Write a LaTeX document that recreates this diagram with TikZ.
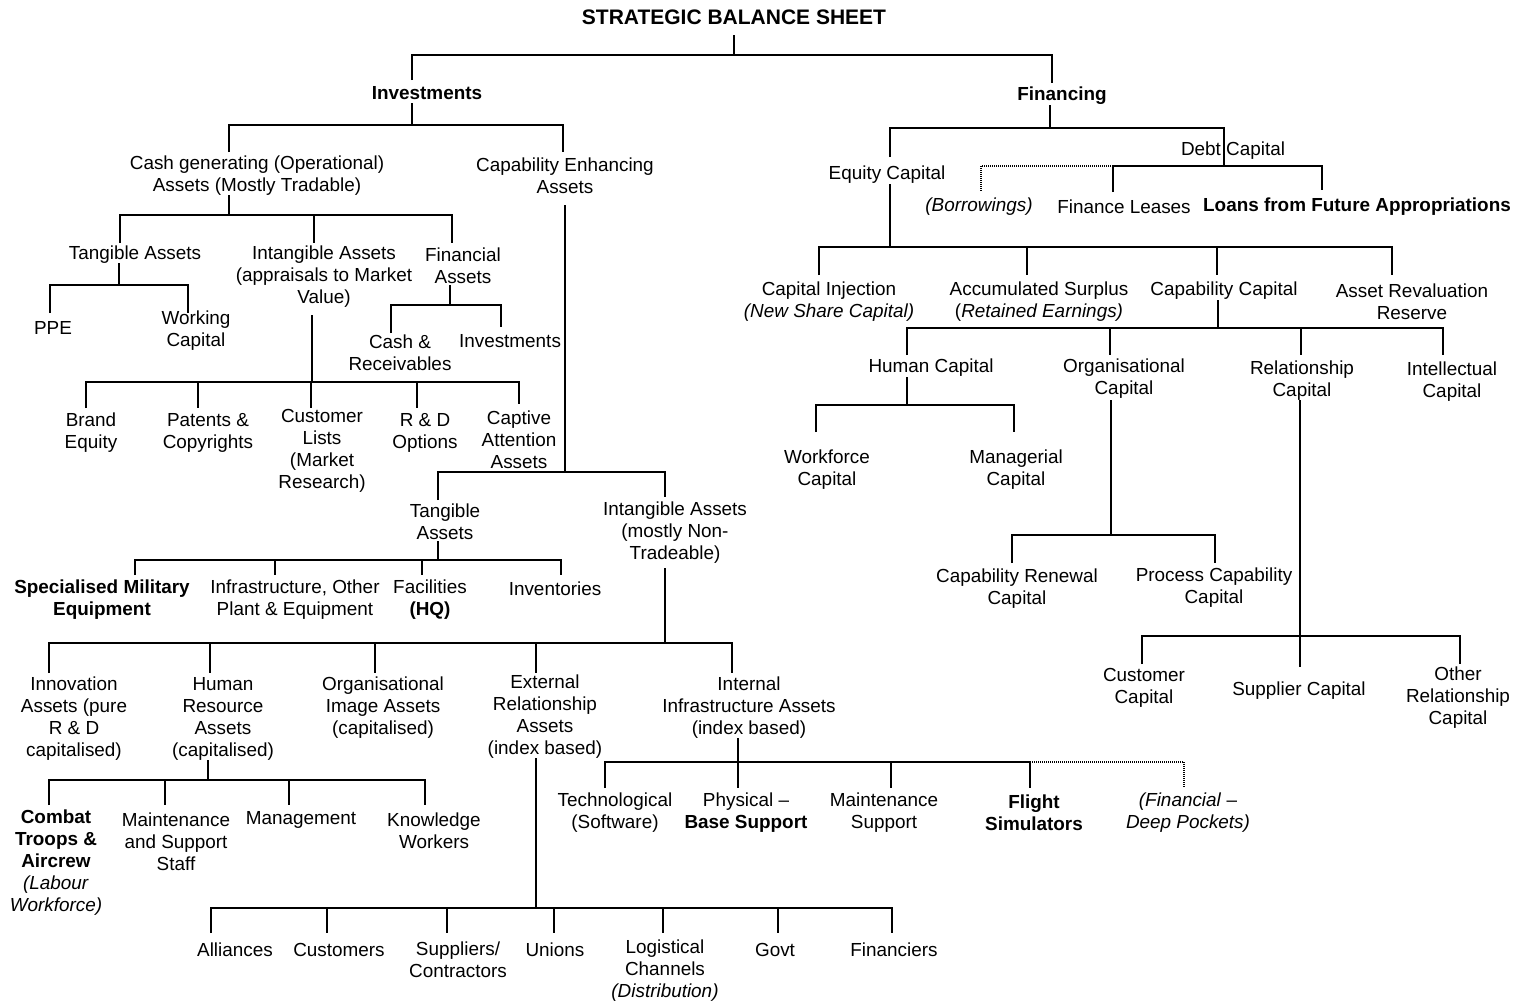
\documentclass[tikz,border=0pt]{standalone}
\usepackage{fontspec}
\setmainfont{Liberation Sans}
\begin{document}
\begin{tikzpicture}[x=1pt,y=-1pt,
  t/.style={align=center, font=\fontsize{18.9}{22}\selectfont, inner sep=0pt, yshift=-1.5pt},
  tb/.style={t, font=\fontsize{18.9}{22}\selectfont\bfseries},
  ln/.style={line width=1.6pt},
  dl/.style={line width=1.1pt, dash pattern=on 1pt off 1pt}]
\useasboundingbox (0,0) rectangle (1523,1002);
% ---------- nodes: left ----------
\node[tb, font=\fontsize{21}{24}\selectfont\bfseries] (root) at (734,16) {STRATEGIC BALANCE SHEET};
\node[tb] (inv) at (427,92) {Investments};
\node[tb] (fin) at (1062,94) {Financing};
\node[t] (cash) at (257,174) {Cash generating (Operational)\\Assets (Mostly Tradable)};
\node[t] (cap) at (565,174) {Capability Enhancing\\Assets};
\node[t] (tang) at (135,253) {Tangible Assets};
\node[t] (intg) at (324,275) {Intangible Assets\\(appraisals to Market\\Value)};
\node[t] (fina) at (463,264) {Financial\\Assets};
\node[t] (ppe) at (53,326) {PPE};
\node[t] (wc) at (196,329) {Working\\Capital};
\node[t] (cr) at (400,351) {Cash \&\\Receivables};
\node[t] (invs) at (510,340) {Investments};
\node[t] (brand) at (91,431) {Brand\\Equity};
\node[t] (pat) at (208,431) {Patents \&\\Copyrights};
\node[t] (cust) at (322,449) {Customer\\Lists\\(Market\\Research)};
\node[t] (rd) at (425,431) {R \& D\\Options};
\node[t] (capt) at (519,438) {Captive\\Attention\\Assets};
\node[t] (tang2) at (445,520) {Tangible\\Assets};
\node[t] (intg2) at (675,531) {Intangible Assets\\(mostly Non-\\Tradeable)};
\node[tb] (sme) at (102,598) {Specialised Military\\Equipment};
\node[t] (infra) at (295,598) {Infrastructure, Other\\Plant \& Equipment};
\node[t] (facil) at (430,598) {Facilities\\\textbf{(HQ)}};
\node[t] (inven) at (555,587) {Inventories};
\node[t] (innov) at (74,717) {Innovation\\Assets (pure\\R \& D\\capitalised)};
\node[t] (hra) at (223,717) {Human\\Resource\\Assets\\(capitalised)};
\node[t] (oia) at (383,706) {Organisational\\Image Assets\\(capitalised)};
\node[t] (era) at (545,715) {External\\Relationship\\Assets\\(index based)};
\node[t] (iia) at (749,706) {Internal\\Infrastructure Assets\\(index based)};
\node[t] (combat) at (56,861) {\textbf{Combat}\\\textbf{Troops \&}\\\textbf{Aircrew}\\\textit{(Labour}\\\textit{Workforce)}};
\node[t] (maint) at (176,840) {Maintenance\\and Support\\Staff};
\node[t] (mgmt) at (301,818) {Management};
\node[t] (know) at (434,829) {Knowledge\\Workers};
\node[t] (alli) at (235,948) {Alliances};
\node[t] (custs) at (339,948) {Customers};
\node[t] (supp) at (458,958) {Suppliers/\\Contractors};
\node[t] (unio) at (555,948) {Unions};
\node[t] (logi) at (665,969) {Logistical\\Channels\\\textit{(Distribution)}};
\node[t] (govt) at (775,948) {Govt};
\node[t] (finc) at (894,948) {Financiers};
\node[t] (tech) at (615,811) {Technological\\(Software)};
\node[t] (phys) at (746,811) {Physical --\\\textbf{Base Support}};
\node[t] (msup) at (884,811) {Maintenance\\Support};
\node[tb] (flight) at (1034,811) {Flight\\Simulators};
\node[t] (finan) at (1188,811) {\textit{(Financial} --\\\textit{Deep Pockets)}};
% ---------- nodes: right ----------
\node[t] (eq) at (887,173) {Equity Capital};
\node[t] (debt) at (1233,149) {Debt Capital};
\node[t] (borr) at (979,205) {\textit{(Borrowings)}};
\node[t] (fl) at (1124,205) {Finance Leases};
\node[tb] (loans) at (1357,205) {Loans from Future Appropriations};
\node[t] (ci) at (829,300) {Capital Injection\\\textit{(New Share Capital)}};
\node[t] (as) at (1039,300) {Accumulated Surplus\\(\textit{Retained Earnings)}};
\node[t] (cc) at (1224,289) {Capability Capital};
\node[t] (arr) at (1412,300) {Asset Revaluation\\Reserve};
\node[t] (hc) at (931,366) {Human Capital};
\node[t] (oc) at (1124,377) {Organisational\\Capital};
\node[t] (rc) at (1302,379) {Relationship\\Capital};
\node[t] (ic) at (1452,380) {Intellectual\\Capital};
\node[t] (wfc) at (827,468) {Workforce\\Capital};
\node[t] (mc) at (1016,468) {Managerial\\Capital};
\node[t] (crc) at (1017,587) {Capability Renewal\\Capital};
\node[t] (pcc) at (1214,586) {Process Capability\\Capital};
\node[t] (cuc) at (1144,686) {Customer\\Capital};
\node[t] (suc) at (1299,689) {Supplier Capital};
\node[t] (orc) at (1458,696) {Other\\Relationship\\Capital};
% ---------- connectors: left ----------
\draw[ln] (734,35) -- (734,55);
\draw[ln] (412,80) -- (412,55) -- (1052,55) -- (1052,83);
\draw[ln] (412,103) -- (412,125);
\draw[ln] (229,152) -- (229,125) -- (563,125) -- (563,152);
\draw[ln] (229,195) -- (229,215);
\draw[ln] (120,243) -- (120,215) -- (452,215) -- (452,243);
\draw[ln] (314,215) -- (314,243);
\draw[ln] (119,263) -- (119,285);
\draw[ln] (50,313) -- (50,285) -- (188,285) -- (188,313);
\draw[ln] (450,285) -- (450,305);
\draw[ln] (391,333) -- (391,305) -- (501,305) -- (501,327);
\draw[ln] (312,315) -- (312,382);
\draw[ln] (86,408) -- (86,382) -- (519,382) -- (519,404);
\foreach \x in {198,311,417} \draw[ln] (\x,382) -- (\x,408);
\draw[ln] (565,205) -- (565,472);
\draw[ln] (438,500) -- (438,472) -- (665,472) -- (665,497);
\draw[ln] (438,541) -- (438,560);
\draw[ln] (135,575) -- (135,560) -- (561,560) -- (561,575);
\foreach \x in {275,422} \draw[ln] (\x,560) -- (\x,575);
\draw[ln] (665,568) -- (665,643);
\draw[ln] (49,673) -- (49,643) -- (732,643) -- (732,673);
\foreach \x in {210,375,536} \draw[ln] (\x,643) -- (\x,673);
\draw[ln] (208,760) -- (208,780);
\draw[ln] (49,805) -- (49,780) -- (425,780) -- (425,805);
\foreach \x in {165,289} \draw[ln] (\x,780) -- (\x,805);
\draw[ln] (536,758) -- (536,908);
\draw[ln] (211,933) -- (211,908) -- (892,908) -- (892,933);
\foreach \x in {327,447,554,663,778} \draw[ln] (\x,908) -- (\x,933);
\draw[ln] (738,738) -- (738,788);
\draw[ln] (605,788) -- (605,762) -- (1030,762) -- (1030,788);
\draw[ln] (891,762) -- (891,788);
\draw[dl] (1030,762) -- (1184,762) -- (1184,787);
% ---------- connectors: right ----------
\draw[ln] (1050,105) -- (1050,128);
\draw[ln] (890,157) -- (890,128) -- (1224,128) -- (1224,166);
\draw[ln] (1113,192) -- (1113,166) -- (1322,166) -- (1322,190);
\draw[dl] (1113,166) -- (981,166) -- (981,192);
\draw[ln] (890,184) -- (890,247);
\draw[ln] (819,275) -- (819,247) -- (1392,247) -- (1392,275);
\foreach \x in {1027,1217} \draw[ln] (\x,247) -- (\x,275);
\draw[ln] (1218,300) -- (1218,328);
\draw[ln] (907,355) -- (907,328) -- (1443,328) -- (1443,355);
\foreach \x in {1110,1301} \draw[ln] (\x,328) -- (\x,355);
\draw[ln] (907,377) -- (907,405);
\draw[ln] (816,432) -- (816,405) -- (1014,405) -- (1014,432);
\draw[ln] (1111,400) -- (1111,535);
\draw[ln] (1012,563) -- (1012,535) -- (1215,535) -- (1215,563);
\draw[ln] (1300,400) -- (1300,667);
\draw[ln] (1142,664) -- (1142,636) -- (1460,636) -- (1460,664);
\end{tikzpicture}
\end{document}
